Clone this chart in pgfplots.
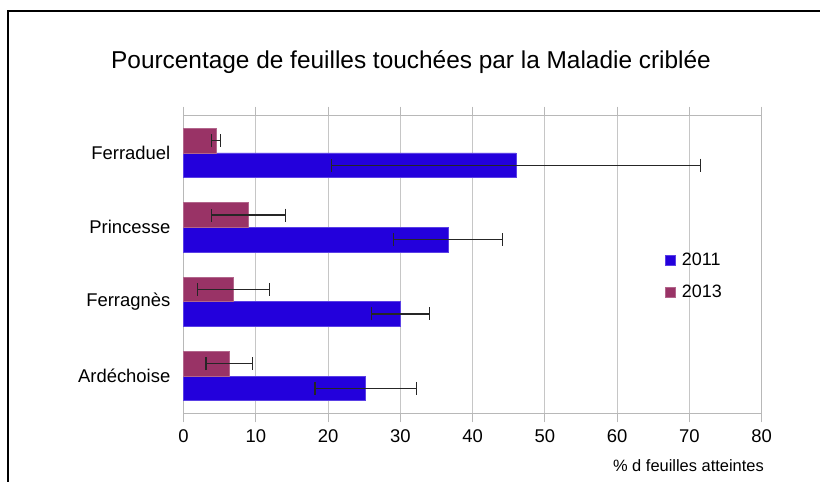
\documentclass[border=0pt]{standalone}
\usepackage{fontspec}
\setmainfont{Liberation Sans}
\usepackage{pgfplots}
\pgfplotsset{compat=1.18}
\definecolor{c2011}{HTML}{2300DC}
\definecolor{c2013}{HTML}{993366}
\definecolor{gridgray}{HTML}{C6C6C6}
\definecolor{axgray}{HTML}{B8B8B8}

\begin{document}
\begin{tikzpicture}
\begin{axis}[
  scale only axis,
  width=578.2bp, height=297.6bp,
  xmin=0, xmax=80, ymin=-0.5, ymax=3.5,
  xtick={0,10,...,80},
  ytick={0,1,2,3},
  yticklabels={Ardéchoise,Ferragnès,Princesse,Ferraduel},
  minor ytick={-0.5,0.5,1.5,2.5,3.5},
  xmajorgrids, grid style={gridgray, line width=0.8bp},
  axis line style={axgray, line width=0.8bp},
  tick align=outside,
  major tick length=9bp, minor tick length=8bp,
  ytick style={draw=none},
  xtick style={axgray, line width=0.8bp},
  minor y tick style={axgray, line width=0.8bp},
  /pgf/number format/assume math mode=true,
  tick label style={font=\fontsize{18.5}{20}\selectfont, inner sep=0pt},
  x tick label style={yshift=-7bp},
  y tick label style={xshift=-4bp},
  xbar, bar width=0.33,
  clip=false,
  legend style={draw=none, fill=none, at={(rel axis cs:0.833,0.54)}, anchor=north west,
    font=\fontsize{18}{20}\selectfont, row sep=18bp, column sep=6bp, inner sep=0pt,
    nodes={inner sep=0pt}},
  legend cell align=left,
  legend image code/.code={\fill[#1] (0bp,-5bp) rectangle (10bp,5bp);},
  error bars/error bar style={black!85, line width=1.2bp},
  error bars/error mark options={black!85, line width=1.2bp, mark size=6.5bp, rotate=90},
]
\addplot[fill=c2011, draw=c2011!75!white, line width=0.6bp, bar shift=-0.165,
  error bars/.cd, x dir=both, x explicit]
  table[x=v, y=c, x error=e] {
  c v e
  0 25.2 7.0
  1 30.0 4.0
  2 36.6 7.5
  3 46.0 25.5
};
\addlegendentry{2011}
\addplot[fill=c2013, draw=c2013!75!white, line width=0.6bp, bar shift=0.165,
  error bars/.cd, x dir=both, x explicit]
  table[x=v, y=c, x error=e] {
  c v e
  0 6.3 3.2
  1 6.9 5.0
  2 9.0 5.1
  3 4.5 0.6
};
\addlegendentry{2013}

\node[anchor=base, font=\fontsize{24.5}{26}\selectfont]
  at (rel axis cs:0.3935,1.1593) {Pourcentage de feuilles touchées par la Maladie criblée};
\node[anchor=base east, inner sep=0pt, font=\fontsize{16.5}{18}\selectfont]
  at (rel axis cs:1.004,-0.1956) {\% d feuilles atteintes};
\draw[black, line width=1.5bp] (rel axis cs:-0.3035,-0.2308) -- (rel axis cs:-0.3035,1.3518)
  -- (rel axis cs:1.1008,1.3518);
\coordinate (bl) at (rel axis cs:-0.3174,-0.2308);
\coordinate (tr) at (rel axis cs:1.1008,1.3888);
\end{axis}
\pgfresetboundingbox
\path[use as bounding box] (bl) rectangle (tr);
\end{tikzpicture}
\end{document}
